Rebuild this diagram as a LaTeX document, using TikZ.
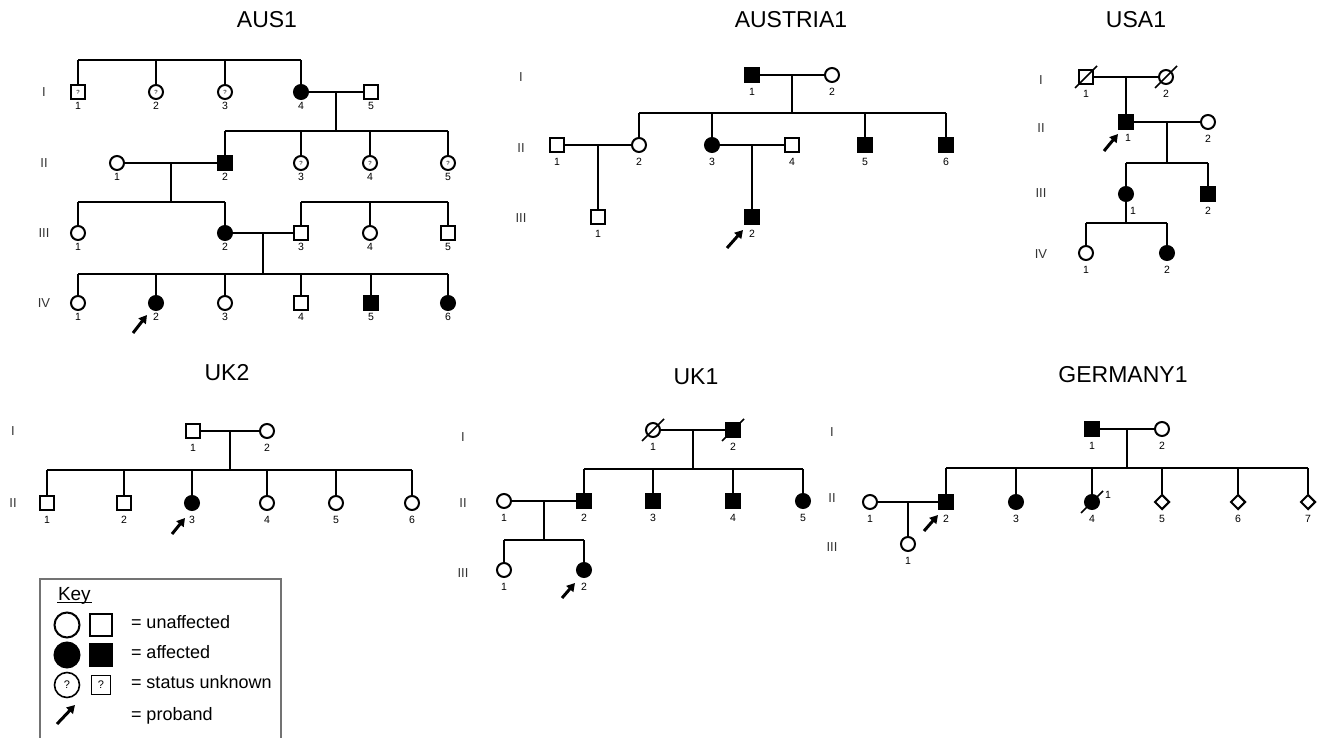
\documentclass[tikz,border=0pt]{standalone}
\usepackage{fontspec}
\setmainfont{Liberation Sans}
\usetikzlibrary{shapes.geometric,arrows.meta,calc}
\newcommand\dslash[1]{\draw[dec] ($(#1)+(-11,11)$) -- ($(#1)+(11,-11)$);}
\begin{document}
\begin{tikzpicture}[x=1pt,y=-1pt,line width=2pt,
  ind/.style={draw,line width=2pt,inner sep=0pt,fill=white,minimum size=14pt},
  sq/.style={ind,rectangle},
  ci/.style={ind,circle},
  dm/.style={ind,diamond,minimum size=15pt},
  af/.style={fill=black},
  unk/.style={font=\fontsize{6}{6}\selectfont},
  num/.style={font=\fontsize{10.5}{11}\selectfont,inner sep=0pt},
  lb/.style={label={[num,label distance=4pt]below:#1}},
  lbs/.style={label={[num,label distance=1pt]below:#1}},
  gen/.style={font=\fontsize{13}{13}\selectfont,text=black!80},
  ttl/.style={font=\fontsize{23}{25}\selectfont},
  prob/.style={line width=3pt,-{Triangle[length=8pt,width=9pt]}},
  dec/.style={line width=1.5pt},
  keyt/.style={font=\fontsize{18}{20}\selectfont,inner sep=0pt},
]
\useasboundingbox (0,0) rectangle (1319,738);

% ================= AUS1 =================
\node[ttl] (a-t) at (267,20) {AUS1};
\node[gen] (a-gI) at (44,92) {I};
\node[gen] (a-gII) at (44,163) {II};
\node[gen] (a-gIII) at (44,233) {III};
\node[gen] (a-gIV) at (44,303) {IV};
\node[sq,unk,lbs=1] (a-I1) at (78,92) {?};
\node[ci,unk,lbs=2] (a-I2) at (156,92) {?};
\node[ci,unk,lbs=3] (a-I3) at (225,92) {?};
\node[ci,af,lbs=4] (a-I4) at (301,92) {};
\node[sq,lbs=5] (a-I5) at (371,92) {};
\node[ci,lbs=1] (a-II1) at (117,163) {};
\node[sq,af,lbs=2] (a-II2) at (225,163) {};
\node[ci,unk,lbs=3] (a-II3) at (301,163) {?};
\node[ci,unk,lbs=4] (a-II4) at (370,163) {?};
\node[ci,unk,lbs=5] (a-II5) at (448,163) {?};
\node[ci,lbs=1] (a-III1) at (78,233) {};
\node[ci,af,lbs=2] (a-III2) at (225,233) {};
\node[sq,lbs=3] (a-III3) at (301,233) {};
\node[ci,lbs=4] (a-III4) at (370,233) {};
\node[sq,lbs=5] (a-III5) at (448,233) {};
\node[ci,lbs=1] (a-IV1) at (78,303) {};
\node[ci,af,lbs=2] (a-IV2) at (156,303) {};
\node[ci,lbs=3] (a-IV3) at (225,303) {};
\node[sq,lbs=4] (a-IV4) at (301,303) {};
\node[sq,af,lbs=5] (a-IV5) at (371,303) {};
\node[ci,af,lbs=6] (a-IV6) at (448,303) {};
\coordinate (a-s1) at (0,60);
\draw (a-I1 |- a-s1) -- (a-I4 |- a-s1);
\foreach \c in {I1,I2,I3,I4} \draw (a-\c) -- (a-\c |- a-s1);
\draw (a-I4) -- (a-I5);
\coordinate (a-m1) at ($(a-I4)!0.5!(a-I5)$);
\coordinate (a-s2) at (0,131);
\draw (a-m1) -- (a-m1 |- a-s2);
\draw (a-II2 |- a-s2) -- (a-II5 |- a-s2);
\foreach \c in {II2,II3,II4,II5} \draw (a-\c) -- (a-\c |- a-s2);
\draw (a-II1) -- (a-II2);
\coordinate (a-m2) at ($(a-II1)!0.5!(a-II2)$);
\coordinate (a-s3) at (0,202);
\draw (a-m2) -- (a-m2 |- a-s3);
\draw (a-III1 |- a-s3) -- (a-III2 |- a-s3);
\foreach \c in {III1,III2} \draw (a-\c) -- (a-\c |- a-s3);
\draw (a-III3 |- a-s3) -- (a-III5 |- a-s3);
\foreach \c in {III3,III4,III5} \draw (a-\c) -- (a-\c |- a-s3);
\draw (a-III2) -- (a-III3);
\coordinate (a-m3) at ($(a-III2)!0.5!(a-III3)$);
\coordinate (a-s4) at (0,274);
\draw (a-m3) -- (a-m3 |- a-s4);
\draw (a-IV1 |- a-s4) -- (a-IV6 |- a-s4);
\foreach \c in {IV1,IV2,IV3,IV4,IV5,IV6} \draw (a-\c) -- (a-\c |- a-s4);
\draw[prob] ($(a-IV2)+(-23,30)$) -- ($(a-IV2)+(-9,12)$);

% ================= AUSTRIA1 =================
\node[ttl] (b-t) at (791,20) {AUSTRIA1};
\node[gen] (b-gI) at (521,77) {I};
\node[gen] (b-gII) at (521,148) {II};
\node[gen] (b-gIII) at (521,218) {III};
\node[sq,af,lb=1] (b-I1) at (752,75) {};
\node[ci,lb=2] (b-I2) at (832,75) {};
\node[sq,lb=1] (b-II1) at (557,145) {};
\node[ci,lb=2] (b-II2) at (639,145) {};
\node[ci,af,lb=3] (b-II3) at (712,145) {};
\node[sq,lb=4] (b-II4) at (792,145) {};
\node[sq,af,lb=5] (b-II5) at (865,145) {};
\node[sq,af,lb=6] (b-II6) at (946,145) {};
\node[sq,lb=1] (b-III1) at (598,217) {};
\node[sq,af,lb=2] (b-III2) at (752,217) {};
\draw (b-I1) -- (b-I2);
\coordinate (b-m1) at ($(b-I1)!0.5!(b-I2)$);
\coordinate (b-s1) at (0,113);
\draw (b-m1) -- (b-m1 |- b-s1);
\draw (b-II2 |- b-s1) -- (b-II6 |- b-s1);
\foreach \c in {II2,II3,II5,II6} \draw (b-\c) -- (b-\c |- b-s1);
\draw (b-II1) -- (b-II2);
\coordinate (b-m2) at ($(b-II1)!0.5!(b-II2)$);
\draw (b-m2) -- (b-III1);
\draw (b-II3) -- (b-II4);
\coordinate (b-m3) at ($(b-II3)!0.5!(b-II4)$);
\draw (b-m3) -- (b-III2);
\draw[prob] ($(b-III2)+(-25,31)$) -- ($(b-III2)+(-9,13)$);

% ================= USA1 =================
\node[ttl] (c-t) at (1136,20) {USA1};
\node[gen] (c-gI) at (1041,80) {I};
\node[gen] (c-gII) at (1041,128) {II};
\node[gen] (c-gIII) at (1041,193) {III};
\node[gen] (c-gIV) at (1041,254) {IV};
\node[sq,lb=1] (c-I1) at (1086,77) {};
\node[ci,lb=2] (c-I2) at (1166,77) {};
\node[sq,af,label={[num,label distance=3pt,xshift=2pt]below:1}] (c-II1) at (1126,122) {};
\node[ci,lb=2] (c-II2) at (1208,122) {};
\node[ci,af,label={[num,label distance=4pt,xshift=7pt]below:1}] (c-III1) at (1126,194) {};
\node[sq,af,lb=2] (c-III2) at (1208,194) {};
\node[ci,lb=1] (c-IV1) at (1086,253) {};
\node[ci,af,lb=2] (c-IV2) at (1167,253) {};
\dslash{c-I1}
\dslash{c-I2}
\draw (c-I1) -- (c-I2);
\coordinate (c-m1) at ($(c-I1)!0.5!(c-I2)$);
\draw (c-m1) -- (c-II1);
\draw (c-II1) -- (c-II2);
\coordinate (c-m2) at ($(c-II1)!0.5!(c-II2)$);
\coordinate (c-s2) at (0,163);
\draw (c-m2) -- (c-m2 |- c-s2);
\draw (c-III1 |- c-s2) -- (c-III2 |- c-s2);
\foreach \c in {III1,III2} \draw (c-\c) -- (c-\c |- c-s2);
\coordinate (c-s3) at (0,223);
\draw (c-III1) -- (c-III1 |- c-s3);
\draw (c-IV1 |- c-s3) -- (c-IV2 |- c-s3);
\foreach \c in {IV1,IV2} \draw (c-\c) -- (c-\c |- c-s3);
\draw[prob] ($(c-II1)+(-22,29)$) -- ($(c-II1)+(-8,12)$);

% ================= UK2 =================
\node[ttl] (d-t) at (227,373) {UK2};
\node[gen] (d-gI) at (13,431) {I};
\node[gen] (d-gII) at (13,503) {II};
\node[sq,lb=1] (d-I1) at (193,431) {};
\node[ci,lb=2] (d-I2) at (267,431) {};
\node[sq,lb=1] (d-II1) at (47,503) {};
\node[sq,lb=2] (d-II2) at (124,503) {};
\node[ci,af,lb=3] (d-II3) at (192,503) {};
\node[ci,lb=4] (d-II4) at (267,503) {};
\node[ci,lb=5] (d-II5) at (336,503) {};
\node[ci,lb=6] (d-II6) at (412,503) {};
\draw (d-I1) -- (d-I2);
\coordinate (d-m1) at ($(d-I1)!0.5!(d-I2)$);
\coordinate (d-s1) at (0,470);
\draw (d-m1) -- (d-m1 |- d-s1);
\draw (d-II1 |- d-s1) -- (d-II6 |- d-s1);
\foreach \c in {II1,II2,II3,II4,II5,II6} \draw (d-\c) -- (d-\c |- d-s1);
\draw[prob] ($(d-II3)+(-20,31)$) -- ($(d-II3)+(-7,15)$);

% ================= UK1 =================
\node[ttl] (e-t) at (696,377) {UK1};
\node[gen] (e-gI) at (463,437) {I};
\node[gen] (e-gII) at (463,503) {II};
\node[gen] (e-gIII) at (463,573) {III};
\node[ci,lb=1] (e-I1) at (653,430) {};
\node[sq,af,lb=2] (e-I2) at (733,430) {};
\node[ci,lb=1] (e-II1) at (504,501) {};
\node[sq,af,lb=2] (e-II2) at (584,501) {};
\node[sq,af,lb=3] (e-II3) at (653,501) {};
\node[sq,af,lb=4] (e-II4) at (733,501) {};
\node[ci,af,lb=5] (e-II5) at (803,501) {};
\node[ci,lb=1] (e-III1) at (504,570) {};
\node[ci,af,lb=2] (e-III2) at (584,570) {};
\dslash{e-I1}
\dslash{e-I2}
\draw (e-I1) -- (e-I2);
\coordinate (e-m1) at ($(e-I1)!0.5!(e-I2)$);
\coordinate (e-s1) at (0,469);
\draw (e-m1) -- (e-m1 |- e-s1);
\draw (e-II2 |- e-s1) -- (e-II5 |- e-s1);
\foreach \c in {II2,II3,II4,II5} \draw (e-\c) -- (e-\c |- e-s1);
\draw (e-II1) -- (e-II2);
\coordinate (e-m2) at ($(e-II1)!0.5!(e-II2)$);
\coordinate (e-s2) at (0,540);
\draw (e-m2) -- (e-m2 |- e-s2);
\draw (e-III1 |- e-s2) -- (e-III2 |- e-s2);
\foreach \c in {III1,III2} \draw (e-\c) -- (e-\c |- e-s2);
\draw[prob] ($(e-III2)+(-22,28)$) -- ($(e-III2)+(-9,13)$);

% ================= GERMANY1 =================
\node[ttl] (f-t) at (1123,375) {GERMANY1};
\node[gen] (f-gI) at (832,432) {I};
\node[gen] (f-gII) at (832,498) {II};
\node[gen] (f-gIII) at (832,547) {III};
\node[sq,af,lb=1] (f-I1) at (1092,429) {};
\node[ci,lb=2] (f-I2) at (1162,429) {};
\node[ci,lb=1] (f-II1) at (870,502) {};
\node[sq,af,lb=2] (f-II2) at (946,502) {};
\node[ci,af,lb=3] (f-II3) at (1016,502) {};
\node[ci,af,lb=4] (f-II4) at (1092,502) {};
\node[dm,lb=5] (f-II5) at (1162,502) {};
\node[dm,lb=6] (f-II6) at (1238,502) {};
\node[dm,lb=7] (f-II7) at (1308,502) {};
\node[ci,lb=1] (f-III1) at (908,544) {};
\node[num] (f-sup) at (1108,495) {1};
\dslash{f-II4}
\draw (f-I1) -- (f-I2);
\coordinate (f-m1) at ($(f-I1)!0.5!(f-I2)$);
\coordinate (f-s1) at (0,468);
\draw (f-m1) -- (f-m1 |- f-s1);
\draw (f-II2 |- f-s1) -- (f-II7 |- f-s1);
\foreach \c in {II2,II3,II4,II5,II6,II7} \draw (f-\c) -- (f-\c |- f-s1);
\draw (f-II1) -- (f-II2);
\coordinate (f-m2) at ($(f-II1)!0.5!(f-II2)$);
\draw (f-m2) -- (f-III1);
\draw[prob] ($(f-II2)+(-22,29)$) -- ($(f-II2)+(-8,13)$);

% ================= Key =================
\draw[black!55,line width=1.3pt] (40,738) -- (40,579) -- (281,579) -- (281,738);
\node[keyt,font=\fontsize{19}{21}\selectfont,anchor=base west] (k-t) at (57,600) {Key};
\draw[line width=1.3pt] ($(k-t.base west)+(0,2.5)$) -- ($(k-t.base east)+(0,2.5)$);
\node[ci,minimum size=25pt] (k-c1) at (67,625) {};
\node[sq,minimum size=22pt] (k-s1) at (101,625) {};
\node[ci,af,minimum size=25pt] (k-c2) at (67,655) {};
\node[sq,af,minimum size=22pt] (k-s2) at (101,655) {};
\node[ci,minimum size=25pt,line width=1.6pt,font=\fontsize{11}{11}\selectfont] (k-c3) at (67,685) {?};
\node[sq,minimum size=19pt,line width=1.6pt,font=\fontsize{11}{11}\selectfont] (k-s3) at (101,685) {?};
\node[keyt,anchor=base west] (k-l1) at (130,628) {= unaffected};
\node[keyt,anchor=base west] (k-l2) at (130,658) {= affected};
\node[keyt,anchor=base west] (k-l3) at (130,688) {= status unknown};
\node[keyt,anchor=base west] (k-l4) at (130,720) {= proband};
\coordinate (k-a0) at (57,724);
\coordinate (k-a1) at (75,705);
\draw[prob] (k-a0) -- (k-a1);
\end{tikzpicture}
\end{document}
